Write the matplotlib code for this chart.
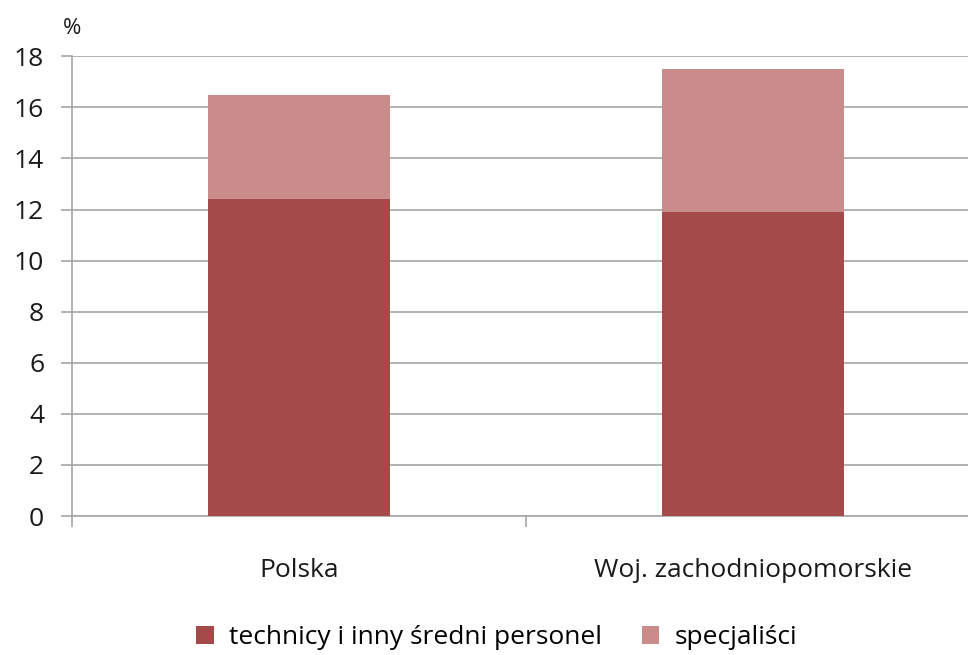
import matplotlib.pyplot as plt

categories = ["Polska", "Woj. zachodniopomorskie"]
technicy = [12.4, 11.9]
specjalisci = [4.1, 5.6]
series_names = ["technicy i inny średni personel", "specjaliści"]
y_ticks = [0, 2, 4, 6, 8, 10, 12, 14, 16, 18]

dark = "#A44A4A"
light = "#C98C8B"
grid_grey = "#A6A6A6"

plt.rcParams["font.family"] = ["Open Sans", "DejaVu Sans"]

fig = plt.figure(figsize=(9.68, 6.55), dpi=100)
ax = fig.add_axes([72 / 968, 1 - 516 / 655, (980 - 72) / 968, (516 - 56.3) / 655])

x = list(range(len(categories)))
ax.bar(x, technicy, width=0.4, color=dark, label=series_names[0], zorder=3)
ax.bar(x, specjalisci, width=0.4, bottom=technicy, color=light, label=series_names[1], zorder=3)

ax.set_xlim(-0.5, 1.5)
ax.set_ylim(0, 18)
ax.set_yticks(y_ticks)
ax.yaxis.grid(True, color=grid_grey, linewidth=1.2, zorder=0)
ax.set_axisbelow(True)

ax.set_xticks([-0.5, 0.5, 1.5])
ax.set_xticklabels(["", "", ""])
ax.set_xticks(x, minor=True)
ax.set_xticklabels(categories, minor=True)
ax.tick_params(axis="x", which="minor", length=0, pad=30, labelsize=19, colors="#1a1a1a")
ax.tick_params(axis="x", which="major", length=8, color=grid_grey, width=1.2)
ax.tick_params(axis="y", length=8, color=grid_grey, width=1.2, labelsize=19, pad=12, labelcolor="#1a1a1a")

for side in ("top", "right"):
    ax.spines[side].set_visible(False)
for side in ("left", "bottom"):
    ax.spines[side].set_color(grid_grey)
    ax.spines[side].set_linewidth(1.2)

fig.text(72 / 968, 1 - 28 / 655, "%", fontsize=16, ha="center", va="center", color="#1a1a1a")

fig.legend(loc="center", bbox_to_anchor=(497 / 968, 1 - 638 / 655), ncol=2, frameon=False,
           fontsize=19, handlelength=0.65, handleheight=0.65, handletextpad=0.6, columnspacing=1.5)

fig.savefig("out.png", dpi=100)
